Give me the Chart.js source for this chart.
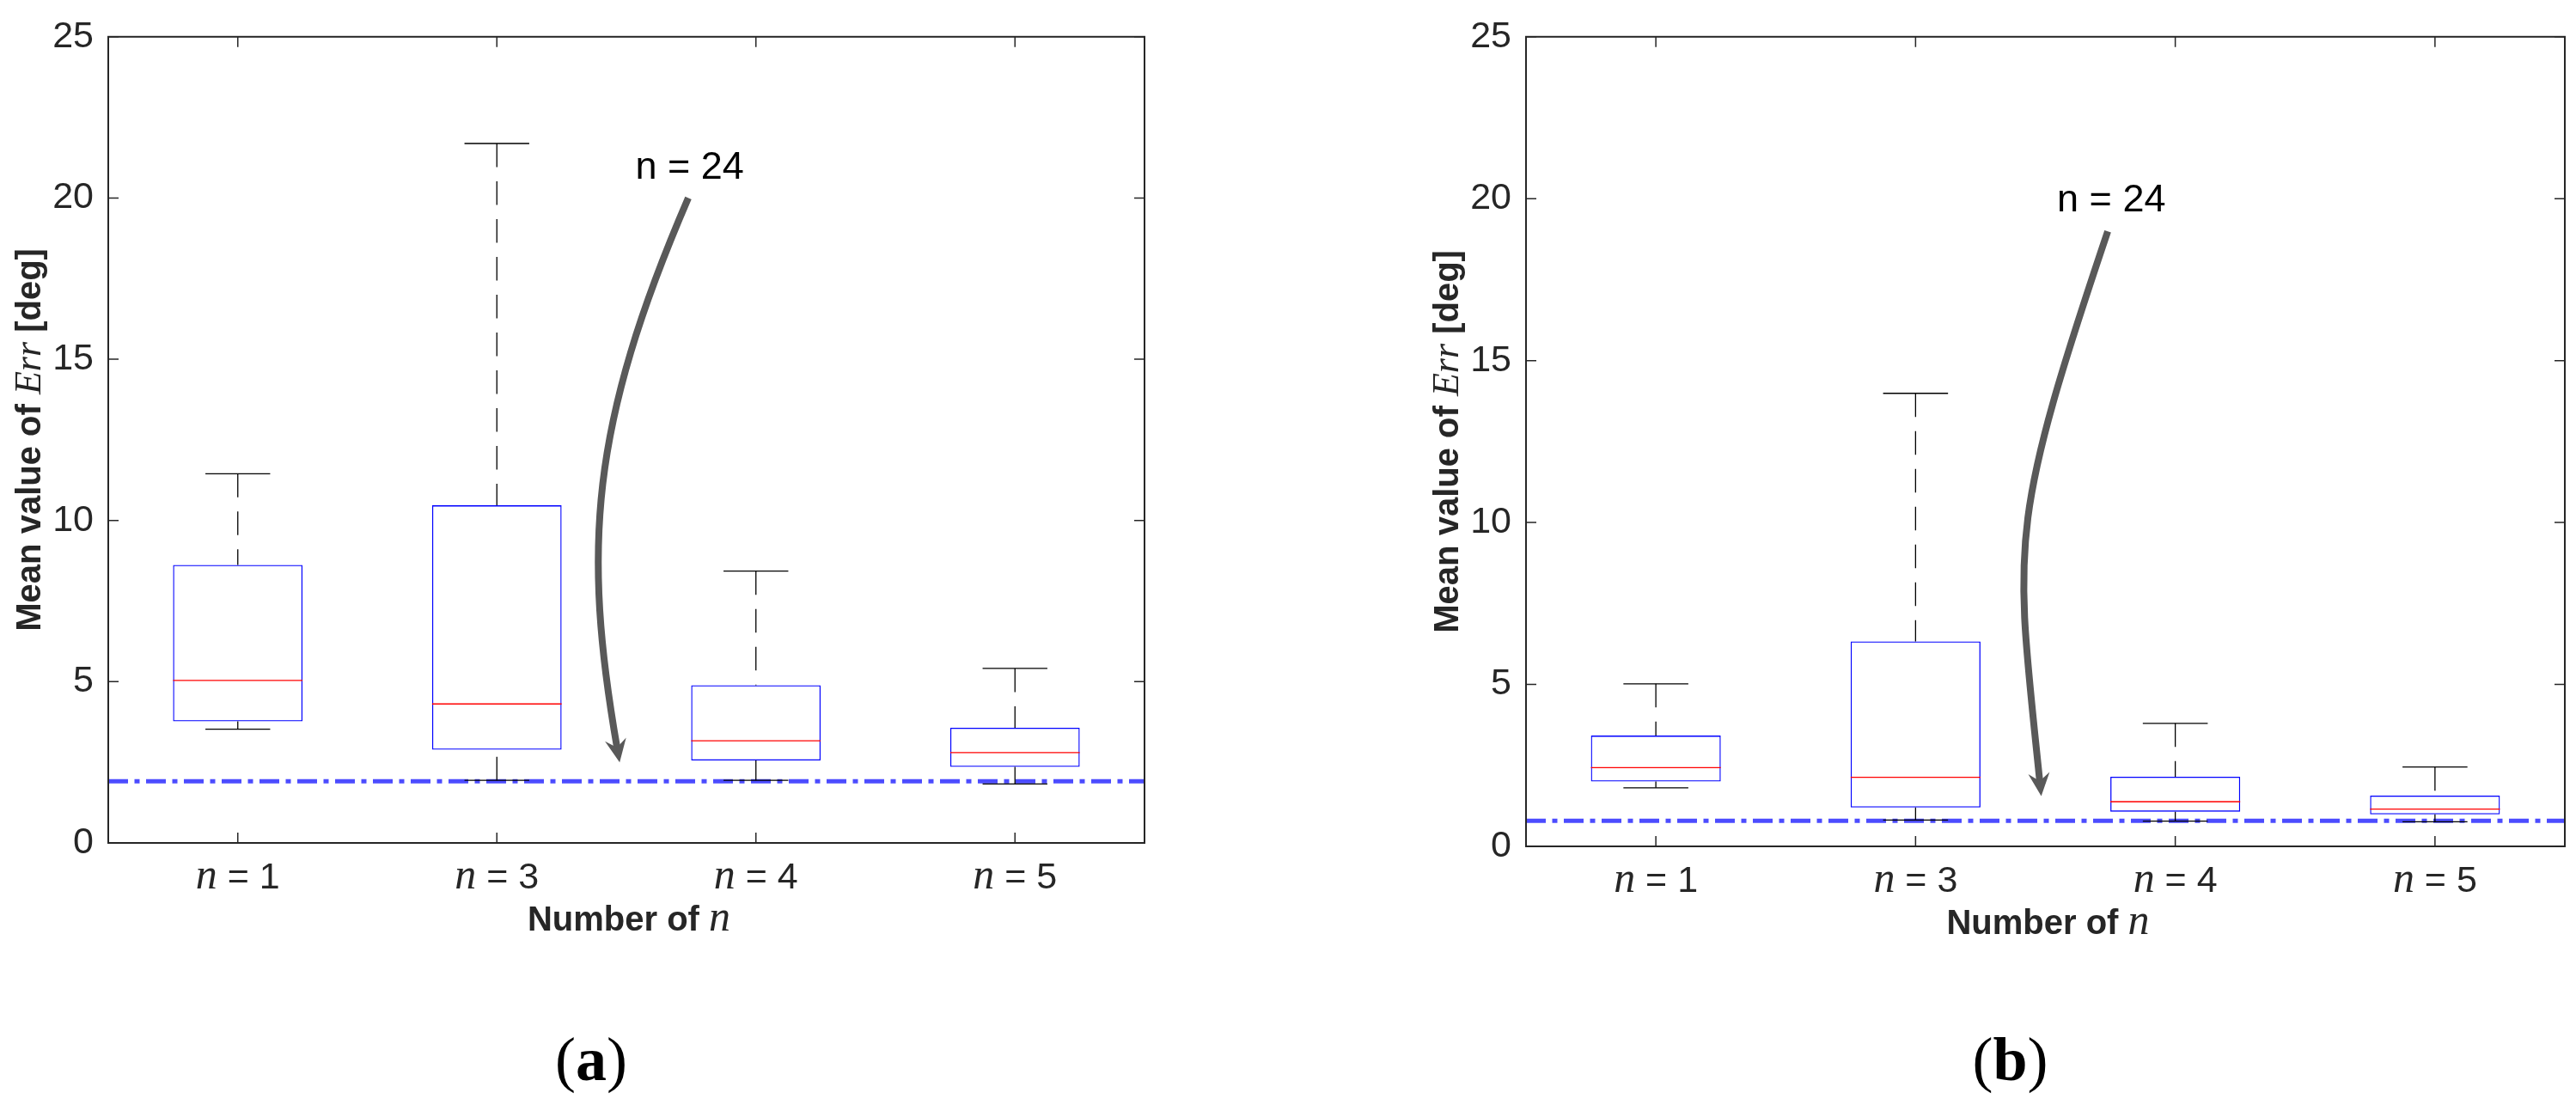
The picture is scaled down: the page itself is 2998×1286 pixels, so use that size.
<!DOCTYPE html>
<html>
<head>
<meta charset="utf-8">
<script src="https://cdn.jsdelivr.net/npm/chart.js@4.4.1/dist/chart.umd.min.js"></script>
<style>
  html, body { margin: 0; padding: 0; background: #fff; }
  #wrap { position: relative; width: 2998px; height: 1286px; }
  canvas { position: absolute; top: 0; }
  #chartA { left: 0; }
  #chartB { left: 1499px; }
</style>
</head>
<body>
<div id="wrap">
  <canvas id="chartA" width="1499" height="1286"></canvas>
  <canvas id="chartB" width="1499" height="1286"></canvas>
</div>
<script>
// categories and ticks
const categories = ["n = 1", "n = 3", "n = 4", "n = 5"];
const catPos = [1, 2, 3, 4];
const yTicks = [0, 5, 10, 15, 20, 25];
const xTitle = "Number of ";
const yTitle = ["Mean value of ", "Err", " [deg]"];
const note = "n = 24";

// panel (a)
const aLow  = [3.53, 1.94, 1.94, 1.83];
const aQ1   = [3.77, 2.89, 2.56, 2.36];
const aMed  = [5.04, 4.31, 3.17, 2.80];
const aQ3   = [8.62, 10.47, 4.89, 3.57];
const aHigh = [11.45, 21.69, 8.43, 5.41];
const aRef  = 1.91;
// arrow: start, control 1, control 2, tip (data units)
const aArrow = [[2.739, 20.0], [2.350, 12.75], [2.329, 8.97], [2.474, 2.50]];
const aNote = [2.744, 20.6];

// panel (b)
const bLow  = [1.81, 0.81, 0.78, 0.76];
const bQ1   = [2.00, 1.20, 1.07, 0.99];
const bMed  = [2.43, 2.13, 1.38, 1.15];
const bQ3   = [3.42, 6.33, 2.15, 1.57];
const bHigh = [5.02, 13.99, 3.80, 2.45];
const bRef  = 0.79;
const bArrow = [[2.740, 18.99], [2.342, 9.52], [2.385, 9.40], [2.484, 1.55]];
const bNote = [2.754, 19.6];

const SANS = '"Liberation Sans", Arial, sans-serif';
const SERIF = '"Liberation Serif", "Times New Roman", serif';
const AXIS = "#262626";

function drawRuns(ctx, runs, x, y, align) {
  let w = 0;
  runs.forEach(r => { ctx.font = r[1]; w += ctx.measureText(r[0]).width; });
  let cx = align === "center" ? x - w / 2 : x;
  runs.forEach(r => { ctx.font = r[1]; ctx.fillText(r[0], cx, y); cx += ctx.measureText(r[0]).width; });
}

const lerp = (a, b, t) => ({ x: a.x + (b.x - a.x) * t, y: a.y + (b.y - a.y) * t });
function bez(p, t) {
  const a = lerp(p[0], p[1], t), b = lerp(p[1], p[2], t), c = lerp(p[2], p[3], t);
  const d = lerp(a, b, t), e = lerp(b, c, t);
  return { pt: lerp(d, e, t), q1: a, q2: d };
}

function drawArrow(ctx, p) {
  const tip = p[3];
  let dx = tip.x - p[2].x, dy = tip.y - p[2].y;
  const len = Math.hypot(dx, dy); dx /= len; dy /= len;
  const L = 27, W = 12.5;
  // cut the shaft so it ends inside the head
  let t = 1;
  while (t > 0 && Math.hypot(bez(p, t).pt.x - tip.x, bez(p, t).pt.y - tip.y) < L * 0.55) t -= 0.002;
  const s = bez(p, t);
  ctx.beginPath();
  ctx.moveTo(p[0].x, p[0].y);
  ctx.bezierCurveTo(s.q1.x, s.q1.y, s.q2.x, s.q2.y, s.pt.x, s.pt.y);
  ctx.lineWidth = 8; ctx.strokeStyle = "#595959"; ctx.lineCap = "butt";
  ctx.stroke();
  const bx = tip.x - dx * L, by = tip.y - dy * L;
  ctx.beginPath();
  ctx.moveTo(tip.x, tip.y);
  ctx.lineTo(bx - dy * W, by + dx * W);
  ctx.lineTo(tip.x - dx * L * 0.65, tip.y - dy * L * 0.65);
  ctx.lineTo(bx + dy * W, by - dx * W);
  ctx.closePath();
  ctx.fillStyle = "#595959"; ctx.fill();
}

function boxPlugin(p) {
  return {
    id: "boxExtras",
    afterDatasetsDraw(chart) {
      const ctx = chart.ctx, xs = chart.scales.x, ys = chart.scales.y;
      ctx.save();
      catPos.forEach((pos, i) => {
        const px = xs.getPixelForValue(pos);
        // whiskers, dashed from cap toward box
        ctx.strokeStyle = "#000"; ctx.lineWidth = 1.3; ctx.setLineDash([27.5, 16.5]);
        ctx.beginPath();
        ctx.moveTo(px, ys.getPixelForValue(p.high[i])); ctx.lineTo(px, ys.getPixelForValue(p.q3[i]));
        ctx.moveTo(px, ys.getPixelForValue(p.low[i])); ctx.lineTo(px, ys.getPixelForValue(p.q1[i]));
        ctx.stroke();
        ctx.setLineDash([]);
        // caps
        const c0 = xs.getPixelForValue(pos - 0.125), c1 = xs.getPixelForValue(pos + 0.125);
        ctx.beginPath();
        [p.high[i], p.low[i]].forEach(v => { const py = ys.getPixelForValue(v); ctx.moveTo(c0, py); ctx.lineTo(c1, py); });
        ctx.stroke();
        // median
        const m0 = xs.getPixelForValue(pos - 0.25), m1 = xs.getPixelForValue(pos + 0.25);
        const my = ys.getPixelForValue(p.med[i]);
        ctx.strokeStyle = "#ff0000";
        ctx.beginPath(); ctx.moveTo(m0, my); ctx.lineTo(m1, my); ctx.stroke();
      });
      drawArrow(ctx, p.arrow.map(a => ({ x: xs.getPixelForValue(a[0]), y: ys.getPixelForValue(a[1]) })));
      ctx.fillStyle = "#000"; ctx.textAlign = "left"; ctx.textBaseline = "alphabetic";
      drawRuns(ctx, [[note, "45px " + SANS]], xs.getPixelForValue(p.note[0]), ys.getPixelForValue(p.note[1]), "center");
      ctx.restore();
    },
    afterDraw(chart) {
      const ctx = chart.ctx, a = chart.chartArea, xs = chart.scales.x, ys = chart.scales.y;
      ctx.save();
      // frame with inward ticks
      ctx.strokeStyle = AXIS; ctx.lineWidth = 2;
      ctx.strokeRect(a.left, a.top, a.right - a.left, a.bottom - a.top);
      ctx.lineWidth = 1.5;
      ctx.beginPath();
      catPos.forEach(v => {
        const px = xs.getPixelForValue(v);
        ctx.moveTo(px, a.bottom); ctx.lineTo(px, a.bottom - 12);
        ctx.moveTo(px, a.top); ctx.lineTo(px, a.top + 12);
      });
      yTicks.forEach(v => {
        const py = ys.getPixelForValue(v);
        ctx.moveTo(a.left, py); ctx.lineTo(a.left + 12, py);
        ctx.moveTo(a.right, py); ctx.lineTo(a.right - 12, py);
      });
      ctx.stroke();
      // x tick labels
      ctx.fillStyle = AXIS; ctx.textAlign = "left"; ctx.textBaseline = "alphabetic";
      categories.forEach((c, i) => {
        drawRuns(ctx, [[c.slice(0, 1), "italic 50px " + SERIF], [c.slice(1), "43px " + SANS]],
                 xs.getPixelForValue(catPos[i]), a.bottom + 53, "center");
      });
      const mid = (a.left + a.right) / 2;
      drawRuns(ctx, [[xTitle, "bold 40px " + SANS], ["n", "italic 50px " + SERIF]], mid + 3, a.bottom + 102, "center");
      // y title
      ctx.translate(a.left - 79, (a.top + a.bottom) / 2);
      ctx.rotate(-Math.PI / 2);
      drawRuns(ctx, [[yTitle[0], "bold 40px " + SANS], [yTitle[1], "italic 44px " + SERIF], [yTitle[2], "bold 40px " + SANS]], 0, 0, "center");
      ctx.setTransform(1, 0, 0, 1, 0, 0);
      // panel letter
      ctx.fillStyle = "#000";
      drawRuns(ctx, [["(", "72px " + SERIF], [p.letter, "bold 72px " + SERIF], [")", "72px " + SERIF]], mid - 41, 1257, "center");
      ctx.restore();
    }
  };
}

function makeChart(id, p) {
  return new Chart(document.getElementById(id), {
    type: "bar",
    data: {
      datasets: [
        {
          type: "bar",
          data: catPos.map((x, i) => ({ x: x, y: [p.q1[i], p.q3[i]] })),
          backgroundColor: "rgba(0,0,0,0)", borderColor: "#0000ff", borderWidth: 1.3,
          borderSkipped: false, barPercentage: 0.5, categoryPercentage: 1, order: 1
        },
        {
          type: "line",
          data: [{ x: 0.5, y: p.ref }, { x: 4.5, y: p.ref }],
          borderColor: "rgba(0,0,255,0.7)", borderWidth: 5, borderDash: [23, 7.5, 6, 7.5],
          pointRadius: 0, fill: false, order: 2
        }
      ]
    },
    options: {
      responsive: false, animation: false, devicePixelRatio: 1,
      layout: { padding: { top: p.padTop, right: p.padRight, left: 0, bottom: 0 } },
      plugins: { legend: { display: false }, tooltip: { enabled: false } },
      scales: {
        x: {
          type: "linear", min: 0.5, max: 4.5, offset: false,
          grid: { display: false, drawTicks: false }, border: { display: false },
          ticks: { display: false },
          afterBuildTicks: s => { s.ticks = catPos.map(v => ({ value: v })); },
          afterFit: s => { s.height = p.xAxisH; }
        },
        y: {
          type: "linear", min: 0, max: 25,
          grid: { display: false, drawTicks: false }, border: { display: false },
          ticks: { font: { family: SANS, size: 43 }, color: AXIS, padding: 17 },
          afterBuildTicks: s => { s.ticks = yTicks.map(v => ({ value: v })); },
          afterFit: s => { s.width = p.yAxisW; }
        }
      }
    },
    plugins: [boxPlugin(p)]
  });
}

makeChart("chartA", { low: aLow, q1: aQ1, med: aMed, q3: aQ3, high: aHigh, ref: aRef, arrow: aArrow, note: aNote,
  letter: "a", padTop: 30, padRight: 167, yAxisW: 126, xAxisH: 305 });
makeChart("chartB", { low: bLow, q1: bQ1, med: bMed, q3: bQ3, high: bHigh, ref: bRef, arrow: bArrow, note: bNote,
  letter: "b", padTop: 34, padRight: 13, yAxisW: 277, xAxisH: 301 });
</script>
</body>
</html>
